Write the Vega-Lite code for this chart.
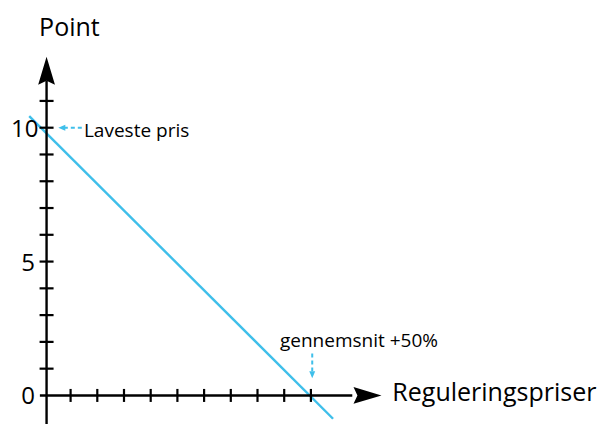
{
  "$schema": "https://vega.github.io/schema/vega-lite/v6.json",
  "width": 603,
  "height": 426,
  "autosize": {"type": "fit", "contains": "padding"},
  "padding": 0,
  "background": "white",
  "config": {"view": {"stroke": null}},
  "datasets": {
    "curve": [{"x": -0.55, "y": 10.43}, {"x": 10.83, "y": -0.87}],
    "axes": [
      {"x": 0.1, "y": -1.07, "x2": 0.1, "y2": 11.75},
      {"x": -0.15, "y": 0, "x2": 11.55, "y2": 0}
    ],
    "yarrow": [{"x": 0.1, "y": 12.13}],
    "xarrow": [{"x": 12.12, "y": 0}],
    "yticks": [
      {"x": 0.1, "y": 1}, {"x": 0.1, "y": 2}, {"x": 0.1, "y": 3}, {"x": 0.1, "y": 4},
      {"x": 0.1, "y": 5}, {"x": 0.1, "y": 6}, {"x": 0.1, "y": 7}, {"x": 0.1, "y": 8},
      {"x": 0.1, "y": 9}, {"x": 0.1, "y": 10}, {"x": 0.1, "y": 11}
    ],
    "xticks": [
      {"x": 1, "y": 0}, {"x": 2, "y": 0}, {"x": 3, "y": 0}, {"x": 4, "y": 0}, {"x": 5, "y": 0},
      {"x": 6, "y": 0}, {"x": 7, "y": 0}, {"x": 8, "y": 0}, {"x": 9, "y": 0}, {"x": 10, "y": 0}
    ],
    "ylabels": [
      {"x": -0.33, "y": 0, "label": "0"},
      {"x": -0.33, "y": 5, "label": "5"},
      {"x": -0.2, "y": 10, "label": "10"}
    ],
    "titles": [
      {"x": -0.18, "y": 13.41, "label": "Point"},
      {"x": 13.05, "y": -0.2, "label": "Reguleringspriser"}
    ],
    "notes": [
      {"x": 1.5, "y": 9.65, "label": "Laveste pris"},
      {"x": 8.84, "y": 1.82, "label": "gennemsnit +50%"}
    ],
    "dashes": [
      {"x": 1.42, "y": 10, "x2": 0.78, "y2": 10},
      {"x": 10.05, "y": 1.57, "x2": 10.05, "y2": 0.9}
    ],
    "headLeft": [{"x": 0.67, "y": 10}],
    "headDown": [{"x": 10.05, "y": 0.77}]
  },
  "encoding": {
    "x": {"field": "x", "type": "quantitative", "scale": {"domain": [-1.644, 20.94], "nice": false, "zero": false}, "axis": null},
    "y": {"field": "y", "type": "quantitative", "scale": {"domain": [-1.067, 14.77], "nice": false, "zero": false}, "axis": null}
  },
  "layer": [
    {
      "data": {"name": "curve"},
      "mark": {"type": "line", "color": "#3fbfea", "strokeWidth": 2.4}
    },
    {
      "data": {"name": "axes"},
      "mark": {"type": "rule", "color": "black", "strokeWidth": 2.4},
      "encoding": {"x2": {"field": "x2"}, "y2": {"field": "y2"}}
    },
    {
      "data": {"name": "yticks"},
      "mark": {"type": "tick", "orient": "horizontal", "size": 14, "thickness": 2.2, "color": "black", "opacity": 1}
    },
    {
      "data": {"name": "xticks"},
      "mark": {"type": "tick", "orient": "vertical", "size": 13, "thickness": 2.2, "color": "black", "opacity": 1}
    },
    {
      "data": {"name": "yarrow"},
      "mark": {"type": "point", "shape": "M0,-1L0.6,1L0,0.72L-0.6,1Z", "size": 784, "filled": true, "color": "black", "opacity": 1, "strokeWidth": 0}
    },
    {
      "data": {"name": "xarrow"},
      "mark": {"type": "point", "shape": "M0,-1L0.6,1L0,0.72L-0.6,1Z", "size": 784, "angle": 90, "filled": true, "color": "black", "opacity": 1, "strokeWidth": 0}
    },
    {
      "data": {"name": "dashes"},
      "mark": {"type": "rule", "color": "#3fbfea", "strokeWidth": 2, "strokeDash": [4, 3]},
      "encoding": {"x2": {"field": "x2"}, "y2": {"field": "y2"}}
    },
    {
      "data": {"name": "headLeft"},
      "mark": {"type": "point", "shape": "M0,-1L0.85,1L-0.85,1Z", "size": 49, "angle": 270, "filled": true, "color": "#3fbfea", "opacity": 1, "strokeWidth": 0}
    },
    {
      "data": {"name": "headDown"},
      "mark": {"type": "point", "shape": "M0,-1L0.85,1L-0.85,1Z", "size": 49, "angle": 180, "filled": true, "color": "#3fbfea", "opacity": 1, "strokeWidth": 0}
    },
    {
      "data": {"name": "ylabels"},
      "mark": {"type": "text", "align": "right", "baseline": "middle", "dy": 2, "font": "Open Sans", "fontSize": 24, "color": "black"},
      "encoding": {"text": {"field": "label"}}
    },
    {
      "data": {"name": "titles"},
      "mark": {"type": "text", "align": "left", "baseline": "alphabetic", "font": "Open Sans", "fontSize": 25, "color": "black"},
      "encoding": {"text": {"field": "label"}}
    },
    {
      "data": {"name": "notes"},
      "mark": {"type": "text", "align": "left", "baseline": "alphabetic", "font": "Open Sans", "fontSize": 19, "color": "black"},
      "encoding": {"text": {"field": "label"}}
    }
  ]
}
